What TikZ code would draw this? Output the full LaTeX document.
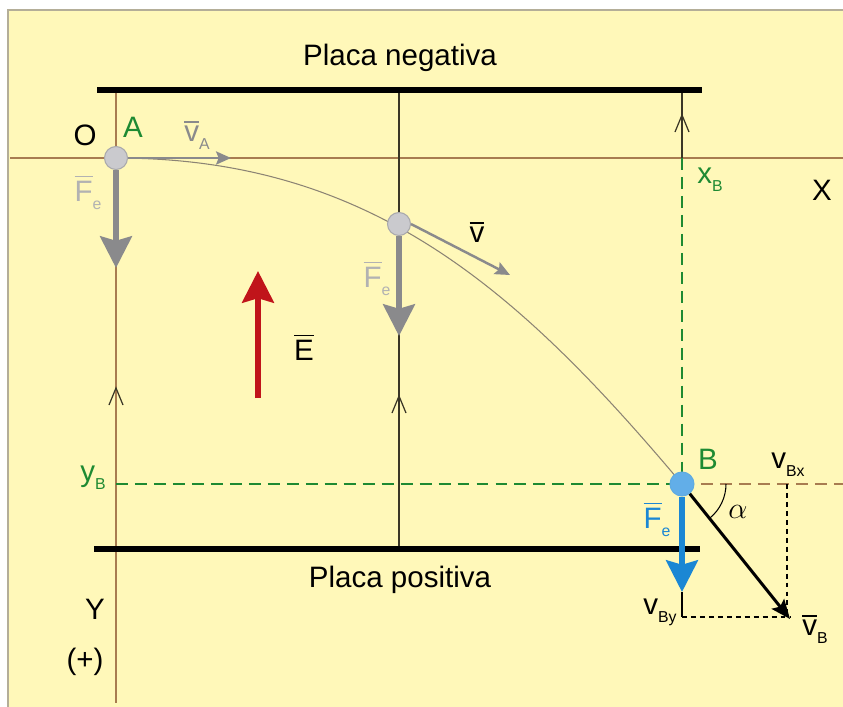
\documentclass[tikz,border=0pt]{standalone}
\usepackage{amsmath}
\usepackage{fontspec}
\setmainfont{Liberation Sans}
\usetikzlibrary{arrows.meta,positioning}
\definecolor{Paper}{HTML}{FFF8B9}
\definecolor{Frame}{HTML}{B4AE98}
\definecolor{AxisBrown}{HTML}{A87C50}
\definecolor{PointGreen}{HTML}{1E8A32}
\definecolor{ForceGray}{HTML}{8A8A8C}
\definecolor{LabelGray}{HTML}{B2B2B2}
\definecolor{BallGray}{HTML}{CACACE}
\definecolor{BallEdge}{HTML}{A8A8AC}
\definecolor{ForceBlue}{HTML}{1B87D4}
\definecolor{BallBlue}{HTML}{62AEE8}
\definecolor{FieldRed}{HTML}{C0141A}
\definecolor{LineDark}{HTML}{3A3626}
\definecolor{PathGray}{HTML}{8C8474}
\newcommand{\barred}[1]{\ensuremath{\overline{\text{#1}}}}
\newcommand{\idx}[1]{\raisebox{-0.5ex}{\fontsize{9}{10}\selectfont #1}}

\begin{document}
\begin{tikzpicture}[x=0.02cm,y=-0.02cm,font=\fontsize{16.8}{20}\selectfont,
    plate/.style={line width=2.9pt},
    axis/.style={AxisBrown,line width=1.1pt},
    fieldline/.style={LineDark,line width=0.7pt},
    greendash/.style={PointGreen,line width=1.6pt,dash pattern=on 6.8pt off 4pt},
    browndash/.style={AxisBrown,line width=1.6pt,dash pattern=on 6.8pt off 4pt},
    thindash/.style={black,line width=0.6pt,dash pattern=on 2.8pt off 2.3pt},
    ball/.style={circle,draw=BallEdge,fill=BallGray,line width=0.6pt,inner sep=0pt,minimum size=0.46cm},
    force/.style={line width=3.3pt,-{Stealth[length=18pt,width=18pt,inset=2.5pt]}},
    speed/.style={ForceGray,line width=1.4pt,-{Stealth[length=8.5pt,width=7.5pt,inset=1.5pt]}}]
  % frame and plates
  \useasboundingbox (0,0) rectangle (843,707);
  \draw[Frame,fill=Paper,line width=1pt] (8,10) rectangle (870,730);
  \coordinate (A) at (116,158);
  \coordinate (P) at (399,224);
  \coordinate (B) at (682,484);
  \draw[axis] (10,158) -- (843,158);
  \draw[axis] (116,90) -- (116,703);
  \draw[fieldline] (399,90) -- (399,549);
  \draw[fieldline] (682,90) -- (A -| B);
  \foreach \cx/\cy in {116/388,399/396,682/115}
    \draw[fieldline] (\cx-7,\cy+17) -- (\cx,\cy) -- (\cx+7,\cy+17);
  \draw[plate] (97,90) -- (702,90);
  \draw[plate] (94,549) -- (700,549);
  \node (neg) at (400,58) {Placa negativa};
  \node (posi) at (400,580) {Placa positiva};
  % trajectory and coordinates of B
  \draw[PathGray,line width=0.6pt] (A) .. controls +(255,0) and +(-164,-195) .. (B);
  \coordinate (yB) at (116,484);
  \coordinate (edge) at (843,484);
  \draw[greendash] (A -| B) -- (B);
  \draw[greendash] (yB) -- (B);
  \draw[browndash] (B) -- (edge);
  \coordinate (vB) at (790,619);
  \coordinate (FeB) at (682,592);
  \coordinate (vBy) at (682,617);
  \coordinate (vBx) at (787,484);
  \draw[line width=0.6pt] (FeB) -- (vBy);
  \draw[thindash] (vBy) -- (vBy -| vB);
  \draw[thindash] (vBx) -- (vBx |- vBy);
  \draw[line width=0.6pt] (B) ++(44,0) arc[start angle=0,end angle=51,radius=44];
  % particles
  \node[ball] (ballA) at (A) {};
  \node[ball] (ballP) at (P) {};
  \node[ball,fill=BallBlue,draw=ForceBlue!70,minimum size=0.48cm] (ballB) at (B) {};
  % forces and velocities
  \draw[force,ForceGray] (ballA.south) -- (116,268);
  \draw[speed] (ballA.east) -- (231,158);
  \draw[force,ForceGray] (ballP.south) -- (399,336);
  \draw[speed] (ballP.east) -- (510,275);
  \draw[force,FieldRed] (258,398) -- (258,271);
  \draw[force,ForceBlue] (ballB.south) -- (FeB);
  \draw[line width=1.7pt,-{Stealth[length=11pt,width=9pt,inset=2pt]}] (ballB) -- (vB);
  % labels
  \node (lblO) at (85,135) {O};
  \node[PointGreen] (lblA) at (133,127) {A};
  \node[ForceGray] (lblvA) at (197,135) {\barred{v}\idx{A}};
  \node[LabelGray] (lblFA) at (88,192) {\barred{F}\idx{e}};
  \node (lblv) at (477,232) {\barred{v}};
  \node[LabelGray] (lblFP) at (377,278) {\barred{F}\idx{e}};
  \node (lblE) at (304,347) {\barred{E}};
  \node[PointGreen] (lblxB) at (710,180) {x\idx{B}};
  \node (lblX) at (822,190) {X};
  \node[PointGreen] (lblyB) at (93,478) {y\idx{B}};
  \node[PointGreen] (lblB) at (708,459) {B};
  \node (lblvBx) at (788,465) {v\idx{Bx}};
  \node (lblalpha) at (738,512) {$\alpha$};
  \node[ForceBlue] (lblFB) at (657,519) {\barred{F}\idx{e}};
  \node (lblvBy) at (660,612) {v\idx{By}};
  \node (lblvB) at (815,629) {\barred{v}\idx{B}};
  \node (lblY) at (95,609) {Y};
  \node (lblplus) at (85,662) {(+)};
\end{tikzpicture}
\end{document}
